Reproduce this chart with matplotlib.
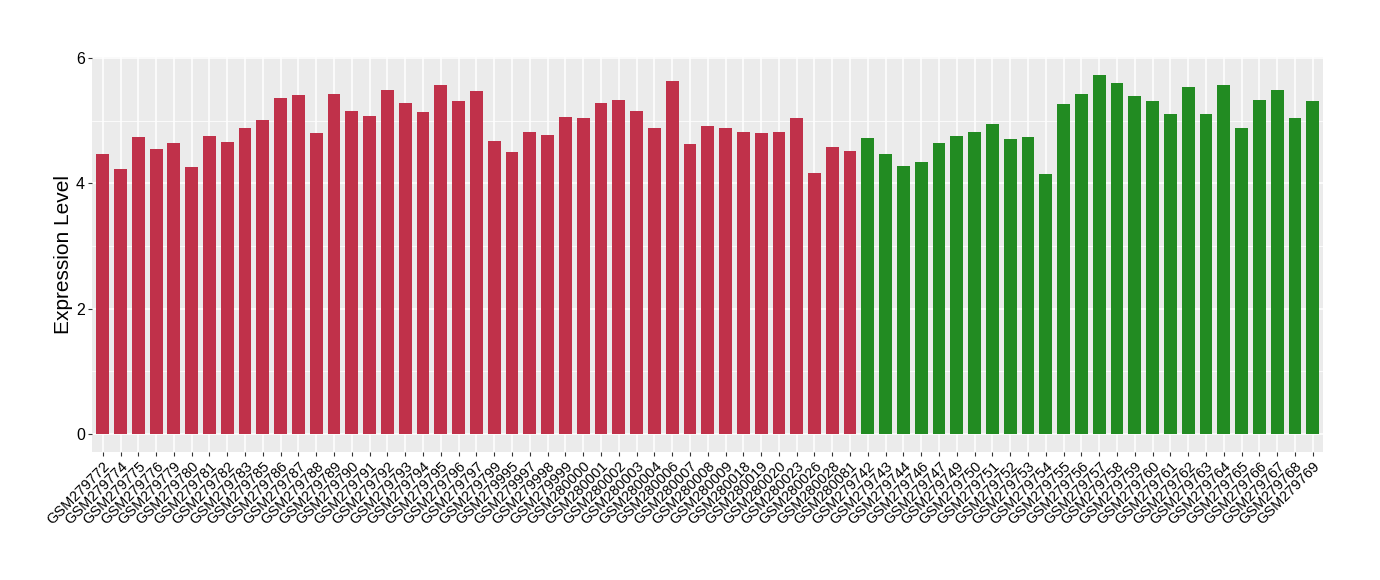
import numpy as np
import matplotlib
matplotlib.use("Agg")
import matplotlib.pyplot as plt

# sample names and expression values
red_samples = ["GSM279772", "GSM279774", "GSM279775", "GSM279776", "GSM279779",
               "GSM279780", "GSM279781", "GSM279782", "GSM279783", "GSM279785",
               "GSM279786", "GSM279787", "GSM279788", "GSM279789", "GSM279790",
               "GSM279791", "GSM279792", "GSM279793", "GSM279794", "GSM279795",
               "GSM279796", "GSM279797", "GSM279799", "GSM279995", "GSM279997",
               "GSM279998", "GSM279999", "GSM280000", "GSM280001", "GSM280002",
               "GSM280003", "GSM280004", "GSM280006", "GSM280007", "GSM280008",
               "GSM280009", "GSM280018", "GSM280019", "GSM280020", "GSM280023",
               "GSM280026", "GSM280028", "GSM280081"]
red_values = [4.47, 4.23, 4.74, 4.55, 4.64, 4.26, 4.76, 4.66, 4.89, 5.01,
              5.36, 5.41, 4.80, 5.43, 5.15, 5.07, 5.50, 5.28, 5.14, 5.57,
              5.31, 5.47, 4.68, 4.50, 4.82, 4.77, 5.06, 5.04, 5.28, 5.33,
              5.15, 4.88, 5.63, 4.63, 4.91, 4.88, 4.83, 4.80, 4.82, 5.04,
              4.16, 4.58, 4.52]

green_samples = ["GSM279742", "GSM279743", "GSM279744", "GSM279746", "GSM279747",
                 "GSM279749", "GSM279750", "GSM279751", "GSM279752", "GSM279753",
                 "GSM279754", "GSM279755", "GSM279756", "GSM279757", "GSM279758",
                 "GSM279759", "GSM279760", "GSM279761", "GSM279762", "GSM279763",
                 "GSM279764", "GSM279765", "GSM279766", "GSM279767", "GSM279768",
                 "GSM279769"]
green_values = [4.72, 4.47, 4.28, 4.34, 4.64, 4.76, 4.83, 4.95, 4.71, 4.74,
                4.15, 5.27, 5.43, 5.73, 5.60, 5.39, 5.31, 5.11, 5.54, 5.11,
                5.58, 4.88, 5.33, 5.49, 5.04, 5.31]

y_ticks = [0, 2, 4, 6]

plt.rcParams['font.family'] = ['Liberation Sans', 'DejaVu Sans']

samples = red_samples + green_samples
values = red_values + green_values
colors = ["#C0314A"] * len(red_samples) + ["#228B22"] * len(green_samples)
x = np.arange(len(samples))

fig = plt.figure(figsize=(13.8, 5.8), dpi=100)
ax = fig.add_axes([0.0667, 0.2207, 0.8923, 0.681])
ax.set_facecolor("#EBEBEB")

ax.set_yticks([1, 3, 5], minor=True)
ax.grid(which="major", color="white", linewidth=1.1)
ax.grid(which="minor", axis="y", color="white", linewidth=0.55)
ax.set_axisbelow(True)

ax.bar(x, values, width=0.72, color=colors, zorder=2)

ax.set_xlim(-0.6, len(samples) - 0.4)
ax.set_ylim(-0.29, 6.02)
ax.set_yticks(y_ticks)
ax.set_yticklabels([str(t) for t in y_ticks], fontsize=11.5)
ax.set_xticks(x)
ax.set_xticklabels(samples, rotation=45, ha="right", rotation_mode="anchor",
                   fontsize=10.5)
ax.tick_params(axis="both", which="major", length=3, color="#333333", width=0.8)
ax.tick_params(axis="y", which="minor", length=0)
ax.tick_params(axis="x", pad=2)
ax.tick_params(axis="y", pad=2)

for s in ax.spines.values():
    s.set_visible(False)

ax.set_ylabel("Expression Level", fontsize=15, labelpad=2)

fig.savefig("out.png", dpi=100)
